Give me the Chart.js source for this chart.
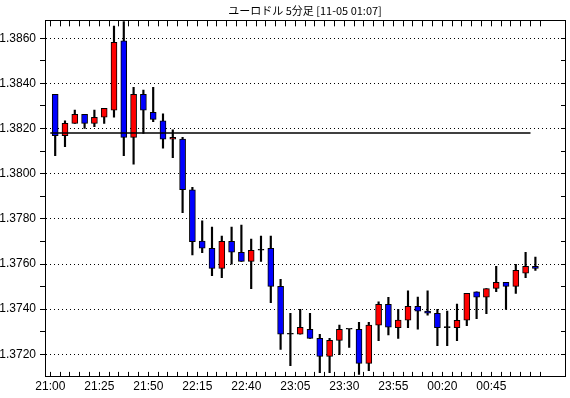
<!DOCTYPE html>
<html>
<head>
<meta charset="utf-8">
<script src="https://cdn.jsdelivr.net/npm/chart.js@4/dist/chart.umd.min.js"></script>
<style>
  html, body { margin: 0; padding: 0; background: #fff; }
  canvas { display: block; }
  #err { position: absolute; left: 60px; top: 150px; font: 11px monospace; color: #c00; white-space: pre; }
</style>
</head>
<body>
<canvas id="eurusdChart" width="570" height="398"></canvas>
<div id="err"></div>
<script>
// 5-minute candles, 21:00 -> 01:05
const times = [
    '21:00', '21:05', '21:10', '21:15', '21:20', '21:25', '21:30', '21:35', '21:40', '21:45',
    '21:50', '21:55', '22:00', '22:05', '22:10', '22:15', '22:20', '22:25', '22:30', '22:35',
    '22:40', '22:45', '22:50', '22:55', '23:00', '23:05', '23:10', '23:15', '23:20', '23:25',
    '23:30', '23:35', '23:40', '23:45', '23:50', '23:55', '00:00', '00:05', '00:10', '00:15',
    '00:20', '00:25', '00:30', '00:35', '00:40', '00:45', '00:50', '00:55', '01:00', '01:05'
];
const opens = [
    1.38352, 1.38169, 1.38223, 1.38263, 1.38223, 1.38250, 1.38282, 1.38589, 1.38161, 1.38352,
    1.38272, 1.38234, 1.38153, 1.38153, 1.37929, 1.37702, 1.37670, 1.37581, 1.37701, 1.37652,
    1.37612, 1.37661, 1.37670, 1.37501, 1.37289, 1.37289, 1.37311, 1.37271, 1.37191, 1.37262,
    1.37311, 1.37311, 1.37160, 1.37329, 1.37422, 1.37318, 1.37351, 1.37413, 1.37392, 1.37382,
    1.37318, 1.37318, 1.37351, 1.37477, 1.37453, 1.37492, 1.37519, 1.37501, 1.37559, 1.37590
];
const highs = [
    1.38352, 1.38234, 1.38282, 1.38263, 1.38282, 1.38290, 1.38654, 1.38674, 1.38383, 1.38371,
    1.38383, 1.38265, 1.38194, 1.38161, 1.37940, 1.37791, 1.37764, 1.37724, 1.37764, 1.37773,
    1.37711, 1.37724, 1.37724, 1.37532, 1.37382, 1.37399, 1.37382, 1.37289, 1.37271, 1.37329,
    1.37311, 1.37342, 1.37342, 1.37433, 1.37453, 1.37399, 1.37481, 1.37454, 1.37481, 1.37399,
    1.37392, 1.37423, 1.37470, 1.37477, 1.37491, 1.37590, 1.37519, 1.37599, 1.37652, 1.37631
];
const lows = [
    1.38080, 1.38120, 1.38223, 1.38201, 1.38208, 1.38223, 1.38250, 1.38080, 1.38042, 1.38179,
    1.38231, 1.38113, 1.38071, 1.37827, 1.37640, 1.37650, 1.37548, 1.37540, 1.37599, 1.37612,
    1.37491, 1.37612, 1.37429, 1.37222, 1.37150, 1.37289, 1.37271, 1.37119, 1.37119, 1.37198,
    1.37231, 1.37111, 1.37128, 1.37260, 1.37286, 1.37271, 1.37318, 1.37311, 1.37373, 1.37238,
    1.37238, 1.37260, 1.37327, 1.37358, 1.37380, 1.37477, 1.37399, 1.37470, 1.37540, 1.37572
];
const closes = [
    1.38169, 1.38223, 1.38263, 1.38223, 1.38250, 1.38290, 1.38582, 1.38161, 1.38352, 1.38282,
    1.38241, 1.38153, 1.38161, 1.37929, 1.37699, 1.37670, 1.37581, 1.37701, 1.37652, 1.37612,
    1.37661, 1.37661, 1.37501, 1.37289, 1.37289, 1.37320, 1.37271, 1.37191, 1.37262, 1.37311,
    1.37311, 1.37160, 1.37329, 1.37422, 1.37320, 1.37352, 1.37413, 1.37391, 1.37382, 1.37318,
    1.37318, 1.37351, 1.37470, 1.37453, 1.37491, 1.37519, 1.37501, 1.37572, 1.37590, 1.37581
];

// horizontal reference line
const refLevel = 1.3818;
const refFrom = -0.5;
const refTo = 48.5;

const yMajorTicks = [1.3720, 1.3740, 1.3760, 1.3780, 1.3800, 1.3820, 1.3840, 1.3860];
const yMinorTicks = [1.3730, 1.3750, 1.3770, 1.3790, 1.3810, 1.3830, 1.3850];

const yMin = 1.3710, yMax = 1.3868;
const xMin = -1.04, xMax = 52.02;

const tickFont = { family: "'Liberation Sans Narrow', 'Liberation Sans', Arial, sans-serif", size: 12 };

const isMajor = v => yMajorTicks.some(t => Math.abs(t - v) < 1e-7);
const yTickValues = yMajorTicks.concat(yMinorTicks).sort((a, b) => a - b);
// slot boundaries between candles
const xBoundaries = times.map((t, i) => i - 0.5).concat([times.length - 0.5]);

const bodyColors = opens.map((o, i) => closes[i] > o ? '#ff0000' : (closes[i] < o ? '#0000ff' : '#000000'));

// inner tick marks along the top and right edges of the frame
const frameTicks = {
    id: 'frameTicks',
    afterDraw(chart) {
        try {
            const c = chart.ctx;
            const area = chart.chartArea;
            const xs = chart.scales.x;
            const ys = chart.scales.y;
            const align = p => Math.round(p - 0.5) + 0.5;
            c.save();
            c.setLineDash([]);
            c.globalAlpha = 1;
            c.globalCompositeOperation = 'source-over';
            c.strokeStyle = '#000000';
            c.lineWidth = 1;
            for (const v of xBoundaries) {
                const px = align(xs.getPixelForValue(v));
                c.beginPath();
                c.moveTo(px, area.top);
                c.lineTo(px, area.top + 6);
                c.stroke();
            }
            for (const v of yTickValues) {
                const py = align(ys.getPixelForValue(v));
                c.beginPath();
                c.moveTo(area.right - 4, py);
                c.lineTo(area.right, py);
                c.stroke();
            }
            c.restore();
        } catch (e) {
            document.getElementById('err').textContent = String(e);
        }
    }
};

const ctx = document.getElementById('eurusdChart').getContext('2d');
new Chart(ctx, {
    data: {
        datasets: [
            {
                type: 'bar',
                label: 'range',
                data: lows.map((l, i) => ({ x: i, y: [l, highs[i]] })),
                backgroundColor: '#000000',
                barThickness: 1.5,
                grouped: false,
                order: 2
            },
            {
                type: 'bar',
                label: 'body',
                data: opens.map((o, i) => ({ x: i, y: [o, closes[i]] })),
                backgroundColor: bodyColors,
                borderColor: '#000000',
                borderWidth: 1,
                borderSkipped: false,
                barThickness: 6,
                minBarLength: 1,
                grouped: false,
                order: 1
            },
            {
                type: 'line',
                label: 'level',
                data: [{ x: refFrom, y: refLevel }, { x: refTo, y: refLevel }],
                borderColor: '#000000',
                borderWidth: 1.5,
                pointRadius: 0,
                order: 0
            }
        ]
    },
    plugins: [frameTicks],
    options: {
        responsive: false,
        animation: false,
        devicePixelRatio: 1,
        layout: { padding: { left: 0, right: 4, top: 0, bottom: 0 } },
        scales: {
            x: {
                type: 'linear', position: 'bottom', min: xMin, max: xMax, bounds: 'data', offset: false,
                afterBuildTicks: s => { s.ticks = xBoundaries.map(v => ({ value: v })); },
                afterFit: s => { s.height = 21.1; },
                grid: { offset: false, drawOnChartArea: false, tickLength: -5, tickColor: '#000', tickWidth: 1 },
                border: { color: '#000', width: 1 },
                ticks: {
                    autoSkip: false, maxRotation: 0, padding: 8, color: '#000', font: tickFont,
                    callback: v => {
                        const i = Math.round(v + 0.5);
                        return (i % 5 === 0 && i < times.length) ? times[i] : '';
                    }
                }
            },
            x2: {
                type: 'linear', position: 'top', min: xMin, max: xMax, bounds: 'data', offset: false,
                afterBuildTicks: s => { s.ticks = xBoundaries.map(v => ({ value: v })); },
                afterFit: s => { s.height = 1; },
                grid: { offset: false, drawOnChartArea: false, tickLength: -6, tickColor: '#000', tickWidth: 1 },
                border: { color: '#000', width: 1 },
                ticks: { autoSkip: false, maxRotation: 0, padding: 0, callback: () => '' }
            },
            y: {
                type: 'linear', position: 'left', min: yMin, max: yMax, bounds: 'data',
                afterBuildTicks: s => { s.ticks = yTickValues.map(v => ({ value: v })); },
                afterFit: s => { s.width = 45; },
                grid: {
                    color: c => (c.tick && isMajor(c.tick.value)) ? '#000' : 'rgba(0,0,0,0)',
                    lineWidth: 1, tickLength: 5, tickColor: '#000', tickWidth: 1
                },
                border: { color: '#000', width: 1, dash: [1, 3] },
                ticks: {
                    autoSkip: false, padding: 4, color: '#000', font: tickFont,
                    callback: v => isMajor(v) ? v.toFixed(4) : ''
                }
            },
            y2: {
                type: 'linear', position: 'right', min: yMin, max: yMax, bounds: 'data',
                afterBuildTicks: s => { s.ticks = yTickValues.map(v => ({ value: v })); },
                afterFit: s => { s.width = 1; },
                grid: { drawOnChartArea: false, tickLength: -4, tickColor: '#000', tickWidth: 1 },
                border: { color: '#000', width: 1 },
                ticks: { autoSkip: false, padding: 0, callback: () => '' }
            }
        },
        plugins: {
            legend: { display: false },
            tooltip: { enabled: false },
            title: {
                display: true,
                text: 'ユーロドル 5分足 [11-05 01:07]',
                color: '#000',
                fullSize: false,
                font: { family: "'Noto Sans CJK JP', sans-serif", size: 11, weight: 'normal', lineHeight: 1.2 },
                padding: { top: 4, bottom: 2 }
            }
        }
    }
});
</script>
</body>
</html>
